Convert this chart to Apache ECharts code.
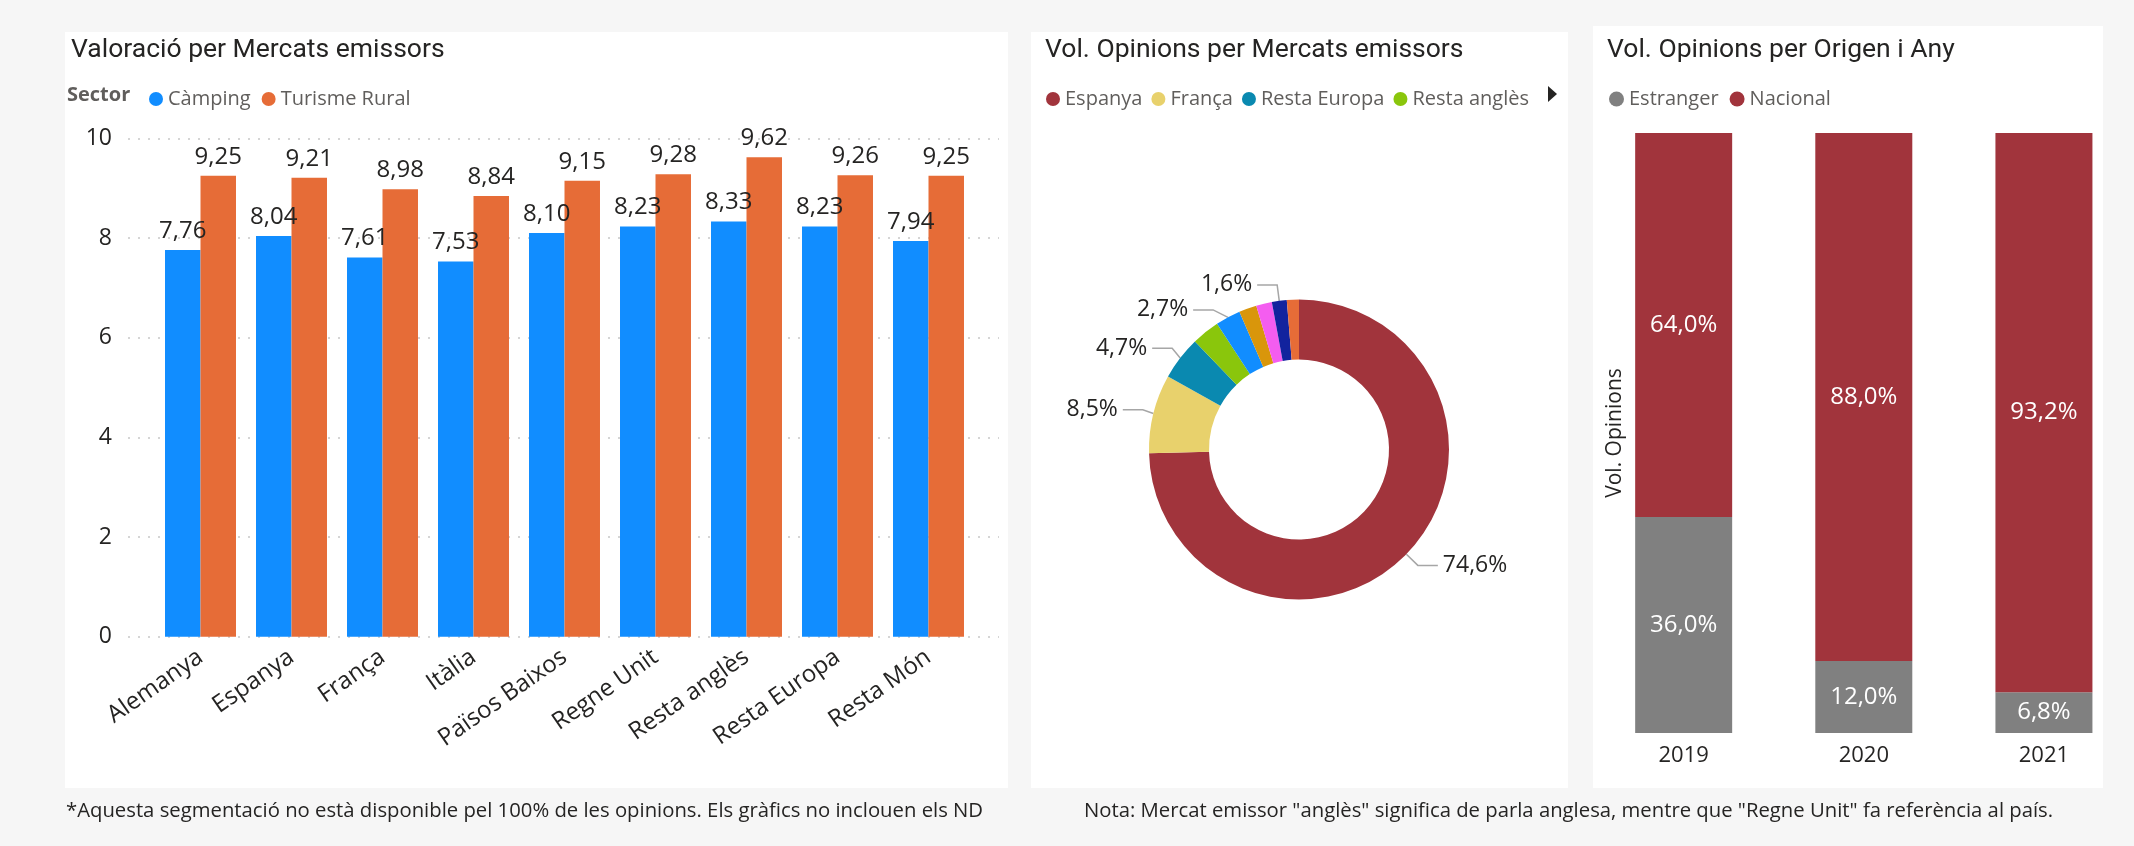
<!DOCTYPE html>
<html>
<head>
<meta charset="utf-8">
<script src="https://cdn.jsdelivr.net/npm/echarts@6/dist/echarts.min.js"></script>
<style>
html,body{margin:0;padding:0;background:#f6f6f6;}
#c{width:2134px;height:846px;}
</style>
</head>
<body>
<div id="c"></div>
<script>
// ---- Data ----
const mercats = ['Alemanya','Espanya','França','Itàlia','Països Baixos','Regne Unit','Resta anglès','Resta Europa','Resta Món'];
const camping = [7.76, 8.04, 7.61, 7.53, 8.10, 8.23, 8.33, 8.23, 7.94];
const turismeRural = [9.25, 9.21, 8.98, 8.84, 9.15, 9.28, 9.62, 9.26, 9.25];

const pieNames = ['Espanya','França','Resta Europa','Resta anglès','Regne Unit','Alemanya','Països Baixos','Resta Món','Itàlia'];
const pieValues = [74.6, 8.5, 4.7, 3.0, 2.7, 1.9, 1.7, 1.6, 1.3];
const pieLabelShown = [true, true, true, false, true, false, false, true, false];
const pieLegendNames = ['Espanya','França','Resta Europa','Resta anglès'];

const anys = ['2019','2020','2021'];
const estranger = [36.0, 12.0, 6.8];
const nacional = [64.0, 88.0, 93.2];

// ---- Styles ----
const FONT = "'Open Sans', 'Segoe UI', sans-serif";
const TFONT = "Roboto, 'Open Sans', sans-serif";
const DARK = '#252423';
const GREY = '#605E5C';
const pieColors = ['#A1343C','#E8D16C','#0A89B0','#8AC60C','#118DFF','#D9960B','#F45DF0','#12239E','#E66C37'];

const comma = (v, d) => v.toFixed(d).replace('.', ',');

const chart = echarts.init(document.getElementById('c'), null, {renderer: 'canvas'});

const option = {
  backgroundColor: '#f6f6f6',
  animation: false,
  textStyle: {fontFamily: FONT},
  graphic: [
    {type: 'rect', z: -10, shape: {x: 65, y: 32, width: 943, height: 756}, style: {fill: '#ffffff'}},
    {type: 'rect', z: -10, shape: {x: 1031, y: 32, width: 537, height: 756}, style: {fill: '#ffffff'}},
    {type: 'rect', z: -10, shape: {x: 1593, y: 26, width: 510, height: 762}, style: {fill: '#ffffff'}},
    {type: 'text', left: 67, top: 85, style: {text: 'Sector', font: "bold 20px 'Open Sans', sans-serif", fill: GREY}},
    {type: 'polygon', shape: {points: [[1548, 86], [1557, 94], [1548, 102]]}, style: {fill: DARK}},
    {type: 'text', left: 66, top: 801, style: {text: '*Aquesta segmentació no està disponible pel 100% de les opinions. Els gràfics no inclouen els ND', font: "20.3px 'Open Sans', sans-serif", fill: DARK}},
    {type: 'text', left: 1084, top: 801, style: {text: 'Nota: Mercat emissor "anglès" significa de parla anglesa, mentre que "Regne Unit" fa referència al país.', font: "20.3px 'Open Sans', sans-serif", fill: DARK}}
  ],
  title: [
    {text: 'Valoració per Mercats emissors', left: 66, top: 32, textStyle: {fontFamily: TFONT, fontSize: 26.5, fontWeight: 'normal', color: DARK}},
    {text: 'Vol. Opinions per Mercats emissors', left: 1040, top: 32, textStyle: {fontFamily: TFONT, fontSize: 26.5, fontWeight: 'normal', color: DARK}},
    {text: 'Vol. Opinions per Origen i Any', left: 1602, top: 32, textStyle: {fontFamily: TFONT, fontSize: 26.5, fontWeight: 'normal', color: DARK}}
  ],
  legend: [
    {data: ['Càmping','Turisme Rural'], left: 144, top: 84, icon: 'circle', itemWidth: 14, itemHeight: 14, itemGap: 11,
     textStyle: {fontFamily: FONT, fontSize: 20, color: GREY}},
    {data: pieLegendNames, left: 1041, top: 84, icon: 'circle', itemWidth: 14, itemHeight: 14, itemGap: 9,
     textStyle: {fontFamily: FONT, fontSize: 20, color: GREY}},
    {data: ['Estranger','Nacional'], left: 1604, top: 84, icon: 'circle', itemWidth: 15, itemHeight: 15, itemGap: 11,
     textStyle: {fontFamily: FONT, fontSize: 20, color: GREY}}
  ],
  grid: [
    {left: 155, width: 819, top: 138.3, height: 498.4},
    {left: 128, width: 871, top: 138.3, height: 498.4},
    {left: 1593.6, width: 545.3, top: 133, height: 600}
  ],
  xAxis: [
    {type: 'category', gridIndex: 0, data: mercats, axisLine: {show: false}, axisTick: {show: false},
     axisLabel: {rotate: 35, interval: 0, fontSize: 24, color: DARK, margin: 18, fontFamily: FONT}},
    {type: 'value', gridIndex: 1, min: 0, max: 1, show: false},
    {type: 'category', gridIndex: 2, data: anys, axisLine: {show: false}, axisTick: {show: false},
     axisLabel: {fontSize: 22, color: DARK, margin: 12, fontFamily: FONT}}
  ],
  yAxis: [
    {type: 'value', gridIndex: 0, min: 0, max: 10, interval: 2, show: false},
    {type: 'value', gridIndex: 1, min: 0, max: 10, interval: 2, axisLine: {show: false}, axisTick: {show: false},
     axisLabel: {fontSize: 23, color: DARK, margin: 16, fontFamily: FONT},
     splitLine: {show: true, lineStyle: {type: [2, 8], color: '#c8c8c8', width: 1.5}}},
    {type: 'value', gridIndex: 2, min: 0, max: 100, offset: -40, axisLine: {show: false}, axisTick: {show: false},
     axisLabel: {show: false}, splitLine: {show: false},
     name: 'Vol. Opinions', nameLocation: 'middle', nameRotate: 90, nameGap: 8,
     nameTextStyle: {fontSize: 21, color: DARK, fontFamily: FONT}}
  ],
  series: [
    {name: 'Càmping', type: 'bar', xAxisIndex: 0, yAxisIndex: 0, data: camping, barGap: '0%', barCategoryGap: '22%',
     itemStyle: {color: '#118DFF'},
     label: {show: true, position: 'top', distance: 7, fontSize: 24, color: DARK, fontFamily: FONT, formatter: p => comma(p.value, 2)}},
    {name: 'Turisme Rural', type: 'bar', xAxisIndex: 0, yAxisIndex: 0, data: turismeRural, barGap: '0%', barCategoryGap: '22%',
     itemStyle: {color: '#E66C37'},
     label: {show: true, position: 'top', distance: 7, fontSize: 24, color: DARK, fontFamily: FONT, formatter: p => comma(p.value, 2)}},
    {name: 'Mercats', type: 'pie', center: [1299, 449.5], radius: [90, 150], startAngle: 90, clockwise: true,
     avoidLabelOverlap: true,
     label: {fontSize: 23, color: DARK, fontFamily: FONT, formatter: p => comma(p.value, 1) + '%'},
     labelLine: {length: 16, length2: 20, lineStyle: {color: '#a6a6a6', width: 1.5}},
     data: pieNames.map((n, i) => ({
       name: n, value: pieValues[i], itemStyle: {color: pieColors[i]},
       label: {show: pieLabelShown[i]}, labelLine: {show: pieLabelShown[i]}
     }))},
    {name: 'Estranger', type: 'bar', xAxisIndex: 2, yAxisIndex: 2, stack: 'o', data: estranger, barWidth: 97,
     itemStyle: {color: '#808080'},
     label: {show: true, position: 'inside', fontSize: 24, color: '#ffffff', fontFamily: FONT, formatter: p => comma(p.value, 1) + '%'}},
    {name: 'Nacional', type: 'bar', xAxisIndex: 2, yAxisIndex: 2, stack: 'o', data: nacional, barWidth: 97,
     itemStyle: {color: '#A1343C'},
     label: {show: true, position: 'inside', fontSize: 24, color: '#ffffff', fontFamily: FONT, formatter: p => comma(p.value, 1) + '%'}}
  ]
};
chart.setOption(option);
</script>
</body>
</html>
